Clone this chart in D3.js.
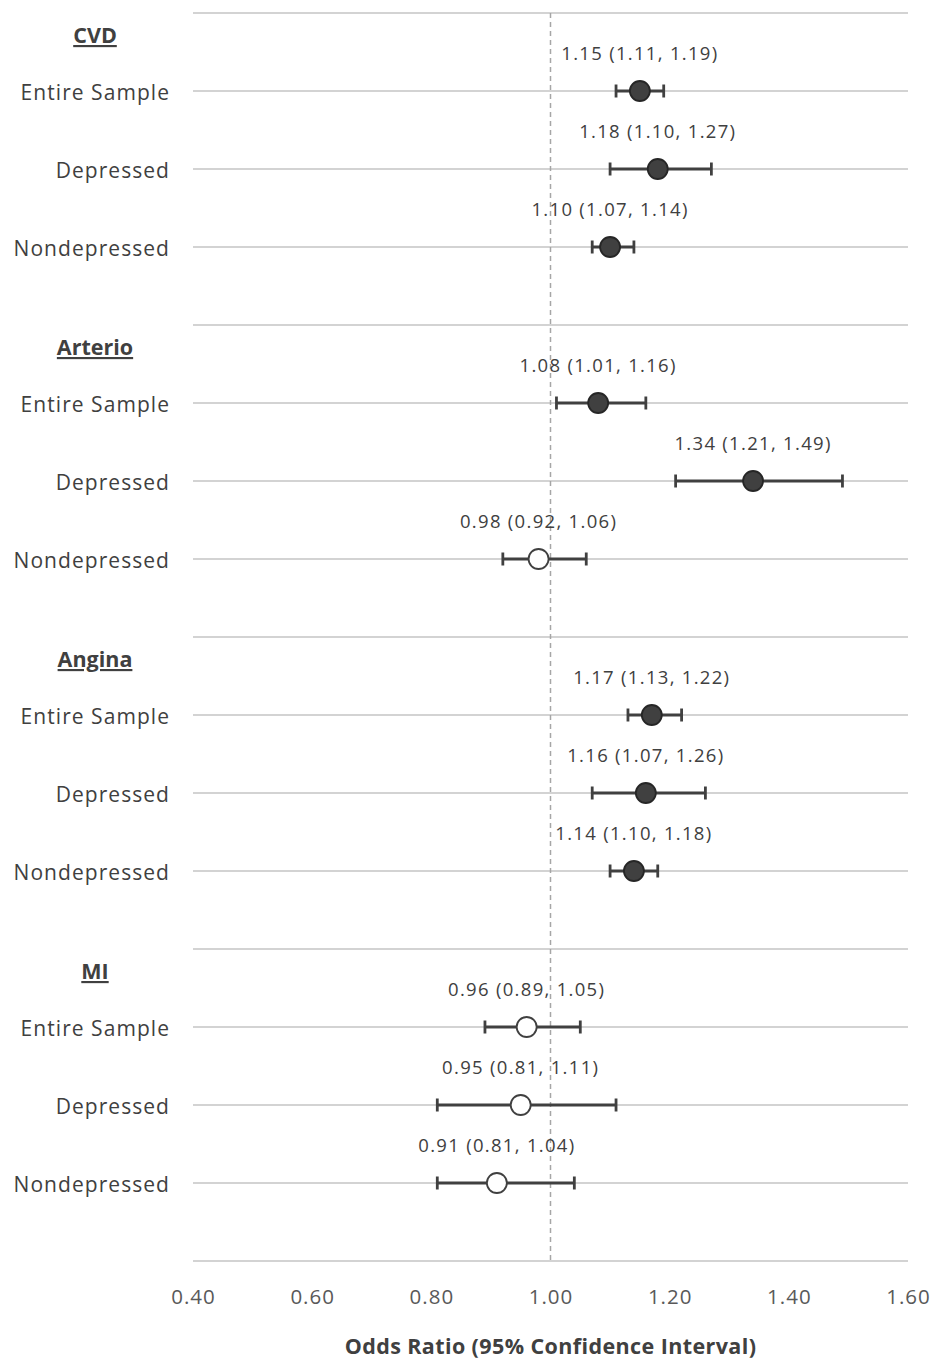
<!DOCTYPE html>
<html>
<head>
<meta charset="utf-8">
<script src="https://cdn.jsdelivr.net/npm/d3@7"></script>
<style>
  html, body { margin: 0; padding: 0; background: #fff; }
  svg { display: block; }
</style>
</head>
<body>
<div id="chart"></div>
<script>
// outcomes, each with three subgroups
const groups = ['CVD', 'Arterio', 'Angina', 'MI'];
const subgroups = ['Entire Sample', 'Depressed', 'Nondepressed'];

// odds ratio and 95% CI, row order: group by group, subgroup by subgroup
const oddsRatio = [1.15, 1.18, 1.10, 1.08, 1.34, 0.98, 1.17, 1.16, 1.14, 0.96, 0.95, 0.91];
const ciLower   = [1.11, 1.10, 1.07, 1.01, 1.21, 0.92, 1.13, 1.07, 1.10, 0.89, 0.81, 0.81];
const ciUpper   = [1.19, 1.27, 1.14, 1.16, 1.49, 1.06, 1.22, 1.26, 1.18, 1.05, 1.11, 1.04];

const xTicks = [0.40, 0.60, 0.80, 1.00, 1.20, 1.40, 1.60];

const width = 934, height = 1359;
const plotLeft = 193, plotRight = 908, plotTop = 13, plotBottom = 1261;
const darkColor = '#404040';
const gridColor = '#d3d3d3';
const font = '"Open Sans", Lato, sans-serif';

const svg = d3.select('#chart').append('svg')
  .attr('width', width)
  .attr('height', height)
  .style('font-family', font);

const x = d3.scaleLinear().domain([0.4, 1.6]).range([plotLeft, plotRight]);
// slot 0 is the top border, every group takes 4 slots (separator + 3 rows)
const slotCount = groups.length * (subgroups.length + 1);
const y = d3.scaleLinear().domain([0, slotCount]).range([plotTop, plotBottom]);

// build rows from the arrays
const rows = [];
groups.forEach((g, gi) => {
  subgroups.forEach((s, si) => {
    const i = gi * subgroups.length + si;
    rows.push({
      group: g, label: s,
      slot: gi * (subgroups.length + 1) + si + 1,
      or: oddsRatio[i], lo: ciLower[i], hi: ciUpper[i],
      sig: ciLower[i] > 1 || ciUpper[i] < 1
    });
  });
});

// horizontal gridlines
svg.append('g').attr('class', 'grid')
  .selectAll('line')
  .data(d3.range(0, slotCount + 1))
  .enter().append('line')
    .attr('x1', plotLeft).attr('x2', plotRight)
    .attr('y1', d => y(d)).attr('y2', d => y(d))
    .attr('stroke', gridColor)
    .attr('stroke-width', 2);

// reference line at OR = 1
svg.append('line')
  .attr('x1', x(1)).attr('x2', x(1))
  .attr('y1', plotTop).attr('y2', plotBottom)
  .attr('stroke', '#a6a6a6')
  .attr('stroke-width', 1.5)
  .attr('stroke-dasharray', '5,4');

// x axis tick labels
const xAxis = d3.axisBottom(x).tickValues(xTicks).tickFormat(d3.format('.2f')).tickSize(0).tickPadding(0);
const axisG = svg.append('g')
  .attr('transform', `translate(0, ${plotBottom})`)
  .call(xAxis);
axisG.select('.domain').remove();
axisG.selectAll('text')
  .attr('y', 43)
  .attr('dy', 0)
  .style('font-family', font)
  .style('font-size', '20.5px')
  .style('letter-spacing', '1px')
  .attr('fill', '#595959');

// axis title
svg.append('text')
  .attr('x', x(1))
  .attr('y', 1354)
  .attr('text-anchor', 'middle')
  .style('font-size', '21.5px')
  .style('font-weight', 'bold')
  .style('letter-spacing', '0.4px')
  .attr('fill', darkColor)
  .text('Odds Ratio (95% Confidence Interval)');

// group headers (bold, underlined)
svg.append('g').selectAll('text')
  .data(groups)
  .enter().append('text')
    .attr('x', 95)
    .attr('y', (d, i) => y(i * (subgroups.length + 1)) + 30)
    .attr('text-anchor', 'middle')
    .style('font-size', '21.5px')
    .style('font-weight', 'bold')
    .style('text-decoration', 'underline')
    .attr('fill', darkColor)
    .text(d => d);

// row labels
svg.append('g').selectAll('text')
  .data(rows)
  .enter().append('text')
    .attr('x', 170)
    .attr('y', d => y(d.slot) + 9)
    .attr('text-anchor', 'end')
    .style('font-size', '21px')
    .style('letter-spacing', '1.05px')
    .attr('fill', darkColor)
    .text(d => d.label);

// error bars
const bars = svg.append('g').selectAll('g')
  .data(rows)
  .enter().append('g');

bars.append('line')
  .attr('x1', d => x(d.lo)).attr('x2', d => x(d.hi))
  .attr('y1', d => y(d.slot)).attr('y2', d => y(d.slot))
  .attr('stroke', darkColor)
  .attr('stroke-width', 3.2);

['lo', 'hi'].forEach(k => {
  bars.append('line')
    .attr('x1', d => x(d[k])).attr('x2', d => x(d[k]))
    .attr('y1', d => y(d.slot) - 6.5).attr('y2', d => y(d.slot) + 6.5)
    .attr('stroke', darkColor)
    .attr('stroke-width', 2.8);
});

// points: filled when CI excludes 1
bars.append('circle')
  .attr('cx', d => x(d.or))
  .attr('cy', d => y(d.slot))
  .attr('r', 10)
  .attr('fill', d => d.sig ? darkColor : '#ffffff')
  .attr('stroke', d => d.sig ? '#262626' : darkColor)
  .attr('stroke-width', 1.8);

// data labels
const f = d3.format('.2f');
bars.append('text')
  .attr('x', d => x(d.or))
  .attr('y', d => y(d.slot) - 31)
  .attr('text-anchor', 'middle')
  .style('font-size', '18.5px')
  .style('letter-spacing', '1.3px')
  .attr('fill', darkColor)
  .text(d => `${f(d.or)} (${f(d.lo)}, ${f(d.hi)})`);
</script>
</body>
</html>
